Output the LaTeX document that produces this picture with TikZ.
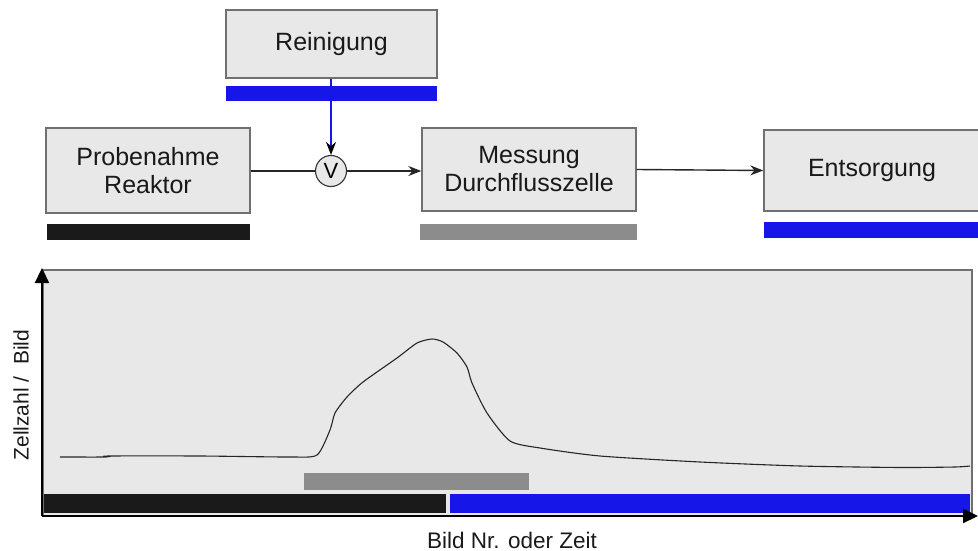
\documentclass[tikz,border=0pt]{standalone}
\usepackage{fontspec}
\setmainfont{Liberation Sans}
\usetikzlibrary{arrows.meta}
\definecolor{boxfill}{HTML}{E8E8E8}
\definecolor{boxline}{HTML}{707070}
\definecolor{barblue}{HTML}{1616E8}
\definecolor{bargrey}{HTML}{8C8C8C}
\definecolor{barblack}{HTML}{1A1A1A}
\tikzset{
  procbox/.style={draw=boxline, line width=1.4pt, fill=boxfill, inner sep=0pt, align=center, font=\fontsize{25}{28}\selectfont, text=black!90},
  conn/.style={line width=1.4pt, draw=black!85},
  tip/.style={-{Stealth[length=13pt,width=10pt]}},
  axlabel/.style={text=black!90},
}
\begin{document}
\begin{tikzpicture}[x=1pt,y=-1pt]
\useasboundingbox (0,0) rectangle (978,551);
% process boxes
\node[procbox, minimum width=211pt, minimum height=68pt] (rein) at (331.5,44) {Reinigung};
\node[procbox, minimum width=204pt, minimum height=85pt] (probe) at (148,170.5) {Probenahme\\Reaktor};
\node[procbox, minimum width=214pt, minimum height=83pt] (mess) at (529,169.5) {Messung\\Durchflusszelle};
\node[procbox, minimum width=216pt, minimum height=81pt] (ents) at (872,170.5) {Entsorgung};
% bars under boxes
\fill[barblue] (226,86) rectangle (437,101);
\fill[barblack] (47,224) rectangle (250,240);
\fill[bargrey] (420,224) rectangle (637,240);
\fill[barblue] (764,222) rectangle (978,238);
% valve
\node[draw=black!80, line width=1.1pt, fill=boxfill, circle, minimum size=31pt, inner sep=0pt, font=\fontsize{22}{22}\selectfont] (v) at (331,171) {V};
\draw[conn] (probe.east |- v.west) -- (v.west);
\draw[conn, tip] (v.east) -- (mess.west |- v.east);
\draw[conn, tip] (mess.east) -- (ents.west);
\draw[line width=1.6pt, draw=barblue, -{Stealth[length=13pt,width=10pt,color=black]}] (rein.south -| v.north) -- (v.north);
% chart
\fill[boxfill] (43,270) rectangle (972,515);
\draw[boxline, line width=1.4pt] (43,515) -- (43,270) -- (972,270) -- (972,515);
\fill[barblack] (44,494) rectangle (446,513);
\fill[barblue] (450,494) rectangle (970,513);
\fill[bargrey] (304,473) rectangle (529,490);
\draw[black!85, line width=1.1pt] plot[smooth, tension=0.4] coordinates {
 (60,457) (106,457) (109,456) (200,456) (290,457) (317,455) (330,430) (335,413) (347,397) (363,382)
 (397,358) (417,343) (432,339) (443,342) (457,353) (467,367) (472,383) (487,413) (510,441)
 (540,448) (600,456) (700,462) (800,466) (900,467.5) (955,467) (970,466)};
% axes
\coordinate (orig) at (42,516);
\coordinate (ytop) at (42,268);
\coordinate (xend) at (978,516);
\draw[line width=2.2pt, -{Triangle[length=15pt,width=14pt]}] (orig) -- (ytop);
\draw[line width=2.2pt, -{Triangle[length=15pt,width=14pt]}] (orig) -- (xend);
\node[axlabel, font=\fontsize{21}{24}\selectfont, rotate=90] (ylab) at (21,395) {Zellzahl /\ \ Bild};
\node[axlabel, font=\fontsize{22.5}{25}\selectfont] (xlab) at (512,540) {Bild Nr. oder Zeit};
\end{tikzpicture}
\end{document}
